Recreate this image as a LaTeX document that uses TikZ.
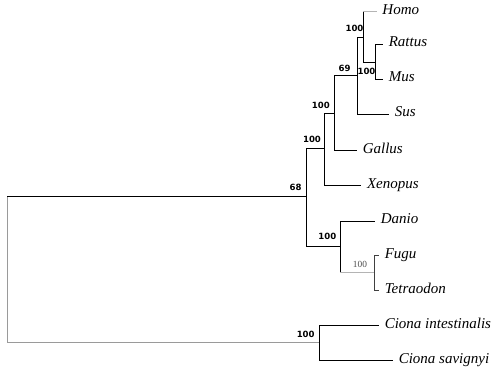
\documentclass[tikz,border=0pt]{standalone}
\usepackage{fontspec}
\usepackage{xcolor}
\usepackage{tikz}
\newfontfamily\taxonfont{Liberation Serif}
\newfontfamily\bootfont{DejaVu Sans}
\definecolor{brgrey}{HTML}{9A9A9A}
\definecolor{brlight}{HTML}{B4B4B4}

\begin{document}
\begin{tikzpicture}[x=0.03cm, y=-0.03cm, line width=0.85pt,
  taxon/.style={anchor=west, inner xsep=4.5pt, inner ysep=0pt,
    text height=8pt, text depth=4pt,
    font=\fontsize{12.8}{14}\selectfont\taxonfont\itshape},
  boot/.style={inner sep=0pt, font=\fontsize{7.3}{8}\selectfont\bootfont\bfseries},
  bootfaint/.style={inner sep=0pt, text=black!70,
    font=\fontsize{8}{9}\selectfont\taxonfont},
  faint/.style={draw=brlight, line width=0.7pt}]
  % the picture is measured in pixels, y running down
  \useasboundingbox (0,0) rectangle (500,369);

  % internal nodes of the tree
  \coordinate (root)  at (7.3,269.5);
  \coordinate (n68)   at (306,196.5);
  \coordinate (nxen)  at (324.3,148.5);
  \coordinate (ngal)  at (334,113.5);
  \coordinate (n69)   at (357.3,75.5);
  \coordinate (nhomo) at (363,37.7);
  \coordinate (nrat)  at (375.7,62.5);
  \coordinate (ndan)  at (340,246);
  \coordinate (nfugu) at (374.3,272);
  \coordinate (ncion) at (319.3,342.5);

  % the taxa, placed at the ends of their branches
  \node[taxon] (homo)    at (376.7,11.7)  {Homo};
  \node[taxon] (rattus)  at (383,44.3)    {Rattus};
  \node[taxon] (mus)     at (383,79.3)    {Mus};
  \node[taxon] (sus)     at (389,114.3)   {Sus};
  \node[taxon] (gallus)  at (357,150.7)   {Gallus};
  \node[taxon] (xenopus) at (361.3,185.7) {Xenopus};
  \node[taxon] (danio)   at (375,221)     {Danio};
  \node[taxon] (fugu)    at (379,255.7)   {Fugu};
  \node[taxon] (tetra)   at (379,290.7)   {Tetraodon};
  \node[taxon] (cint)    at (379,325.7)   {Ciona intestinalis};
  \node[taxon] (csav)    at (393,360.7)   {Ciona savignyi};

  % branches
  \draw[brgrey] (root) |- (n68);
  \draw[brgrey] (root) |- (ncion);
  \draw[line width=1.4pt] (root |- n68) -- (n68);

  \draw (n68) |- (nxen);
  \draw (n68) |- (ndan);
  \draw (nxen) |- (ngal);
  \draw (nxen) |- (xenopus);
  \draw (ngal) |- (n69);
  \draw (ngal) |- (gallus);
  \draw (n69) |- (nhomo);
  \draw (n69) |- (sus);
  \draw (nhomo) -- (nhomo |- homo);
  \draw[faint] (nhomo |- homo) -- (homo);
  \draw (nhomo) |- (nrat);
  \draw (nrat) |- (rattus);
  \draw (nrat) |- (mus);

  \draw (ndan) |- (danio);
  \draw (ndan) -- (ndan |- nfugu);
  \draw[faint] (ndan |- nfugu) -- (nfugu);
  \draw[black!75, line width=0.6pt] (nfugu) |- (fugu);
  \draw[black!75, line width=0.6pt] (nfugu) |- (tetra);

  \draw (ncion) |- (cint);
  \draw (ncion) |- (csav);

  % bootstrap support
  \node[boot] (b68)    at (295.5,187)   {68};
  \node[boot] (bxen)   at (312,139)     {100};
  \node[boot] (bgal)   at (320.8,105)   {100};
  \node[boot] (b69)    at (344.5,68)    {69};
  \node[boot] (bhomo)  at (354.5,28)    {100};
  \node[boot] (brat)   at (366.5,71)    {100};
  \node[boot] (bdan)   at (327.3,236.8) {100};
  \node[bootfaint] (bfugu) at (360,264.7) {100};
  \node[boot] (bcion)  at (305.7,334.3) {100};
\end{tikzpicture}
\end{document}
